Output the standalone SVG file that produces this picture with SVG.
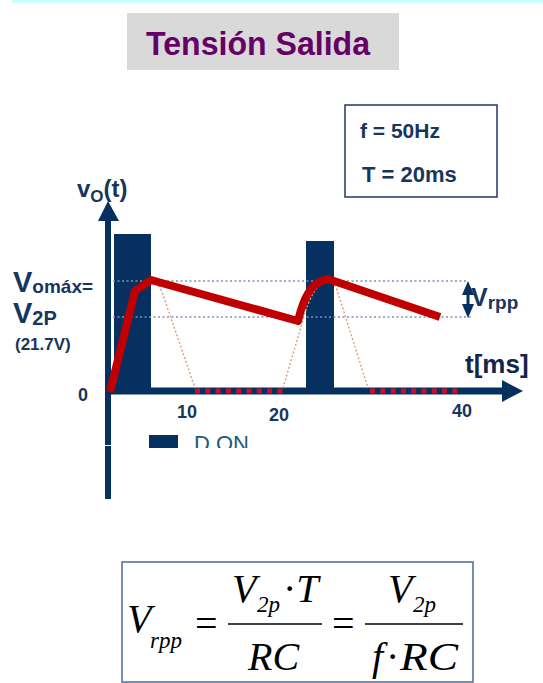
<svg xmlns="http://www.w3.org/2000/svg" width="543" height="683" viewBox="0 0 543 683">
<defs>
<style>
.sans{font-family:"Liberation Sans",Arial,sans-serif;font-weight:bold}
.navy{fill:#17365d}
.serif{font-family:"Liberation Serif","Times New Roman",serif;fill:#000}
.it{font-style:italic}
.bar{fill:#05305f}
.axis{stroke:#05305f;fill:none}
.grid{stroke:#7d90b2;stroke-width:1.5;stroke-dasharray:2 2.5;fill:none}
.sine{stroke:#e0a283;stroke-width:1.5;stroke-dasharray:2 2;fill:none}
.zero{stroke:#c8102e;stroke-width:5;stroke-dasharray:5 5.3;fill:none}
.frac{stroke:#000;stroke-width:1.5}
</style>
<clipPath id="donclip"><rect x="180" y="420" width="100" height="28"/></clipPath>
</defs>
<rect width="543" height="683" fill="#fff"/>
<rect x="12" y="0" width="531" height="3" fill="#ccffff"/>

<g id="title">
<rect x="127" y="13" width="272" height="57" fill="#d9d9d9"/>
<text x="146" y="55" class="sans" font-size="34" fill="#660066" textLength="224" lengthAdjust="spacingAndGlyphs">Tensión Salida</text>
</g>

<g id="params">
<rect x="345" y="105" width="152" height="92" fill="#fff" stroke="#1f3864" stroke-width="1.5"/>
<text x="360" y="138" class="sans navy" font-size="21">f = 50Hz</text>
<text x="362" y="182" class="sans navy" font-size="22">T = 20ms</text>
</g>

<g id="bars">
<rect class="bar" x="114" y="234" width="37" height="157"/>
<rect class="bar" x="306" y="241" width="28" height="150"/>
</g>

<g id="axes">
<line class="axis" x1="108" y1="218" x2="108" y2="499" stroke-width="6"/>
<polygon class="bar" points="108,201 98,221 119,221"/>
<line class="axis" x1="105" y1="391" x2="505" y2="391" stroke-width="7"/>
<polygon class="bar" points="523,391 502,380 502,402"/>
<rect x="104" y="445" width="8" height="1" fill="#fff"/>
</g>

<g id="guides">
<path class="grid" d="M113,281 H468"/>
<path class="grid" d="M113,317 H473"/>
<path class="sine" d="M152,281 Q158,283 162,292 L195,388"/>
<path class="sine" d="M283,388 L303,320 Q312,285 328,280 Q334,282 337,290 L368,388"/>
<path class="zero" d="M195,391 H287"/>
<path class="zero" d="M370,391 H462"/>
</g>

<g id="output-curve">
<path d="M110,392 L135,291 L151,280 L298,321 C303,300 310,282 328,279 L440,317" fill="none" stroke="#c00000" stroke-width="8" stroke-linejoin="round"/>
</g>

<g id="vrpp">
<line x1="468" y1="290" x2="468" y2="309" stroke="#05305f" stroke-width="3"/>
<polygon class="bar" points="468,281 462,295 474,295"/>
<polygon class="bar" points="468,318 462,304 474,304"/>
<text x="471" y="306" class="sans navy" font-size="25">V<tspan font-size="19" dy="3">rpp</tspan></text>
</g>

<g id="labels">
<text x="77" y="197" class="sans navy" font-size="24">v<tspan font-size="17" dy="5">O</tspan><tspan dy="-5">(t)</tspan></text>
<text x="13" y="292" class="sans navy" font-size="29">V<tspan font-size="19" dy="1">omáx=</tspan></text>
<text x="13" y="323" class="sans navy" font-size="29">V<tspan font-size="20" dy="2">2P</tspan></text>
<text x="15" y="350" class="sans navy" font-size="17">(21.7V)</text>
<text x="78" y="401" class="sans navy" font-size="18">0</text>
<text x="177" y="418" class="sans navy" font-size="18">10</text>
<text x="269" y="421" class="sans navy" font-size="18">20</text>
<text x="452" y="417" class="sans navy" font-size="18">40</text>
<text x="465" y="373" class="sans" font-size="26" fill="#14244a">t[ms]</text>
</g>

<g id="legend">
<rect class="bar" x="149" y="435" width="29" height="13"/>
<text x="194" y="451" font-family="Liberation Sans, Arial, sans-serif" font-size="22" fill="#1e5b7a" clip-path="url(#donclip)">D ON</text>
</g>

<g id="formula">
<rect x="122" y="562" width="351" height="120" fill="#fff" stroke="#4a6a9a" stroke-width="1.5"/>
<text x="127" y="632" class="serif it" font-size="40">V</text>
<text x="150" y="648" class="serif it" font-size="23">rpp</text>
<text x="195" y="637" class="serif" font-size="40">=</text>
<text x="232" y="602" class="serif it" font-size="40">V</text>
<text x="257" y="612" class="serif it" font-size="23">2p</text>
<text x="283" y="602" class="serif" font-size="40">·<tspan class="it">T</tspan></text>
<line class="frac" x1="228" y1="624" x2="322" y2="624"/>
<text x="248" y="670" class="serif it" font-size="40">RC</text>
<text x="332" y="637" class="serif" font-size="40">=</text>
<text x="388" y="602" class="serif it" font-size="40">V</text>
<text x="413" y="612" class="serif it" font-size="23">2p</text>
<line class="frac" x1="365" y1="624" x2="463" y2="624"/>
<text x="372" y="670" class="serif it" font-size="40">f</text>
<text x="386" y="670" class="serif" font-size="40">·</text>
<text x="400" y="670" class="serif it" font-size="40" textLength="58" lengthAdjust="spacingAndGlyphs">RC</text>
</g>
</svg>
